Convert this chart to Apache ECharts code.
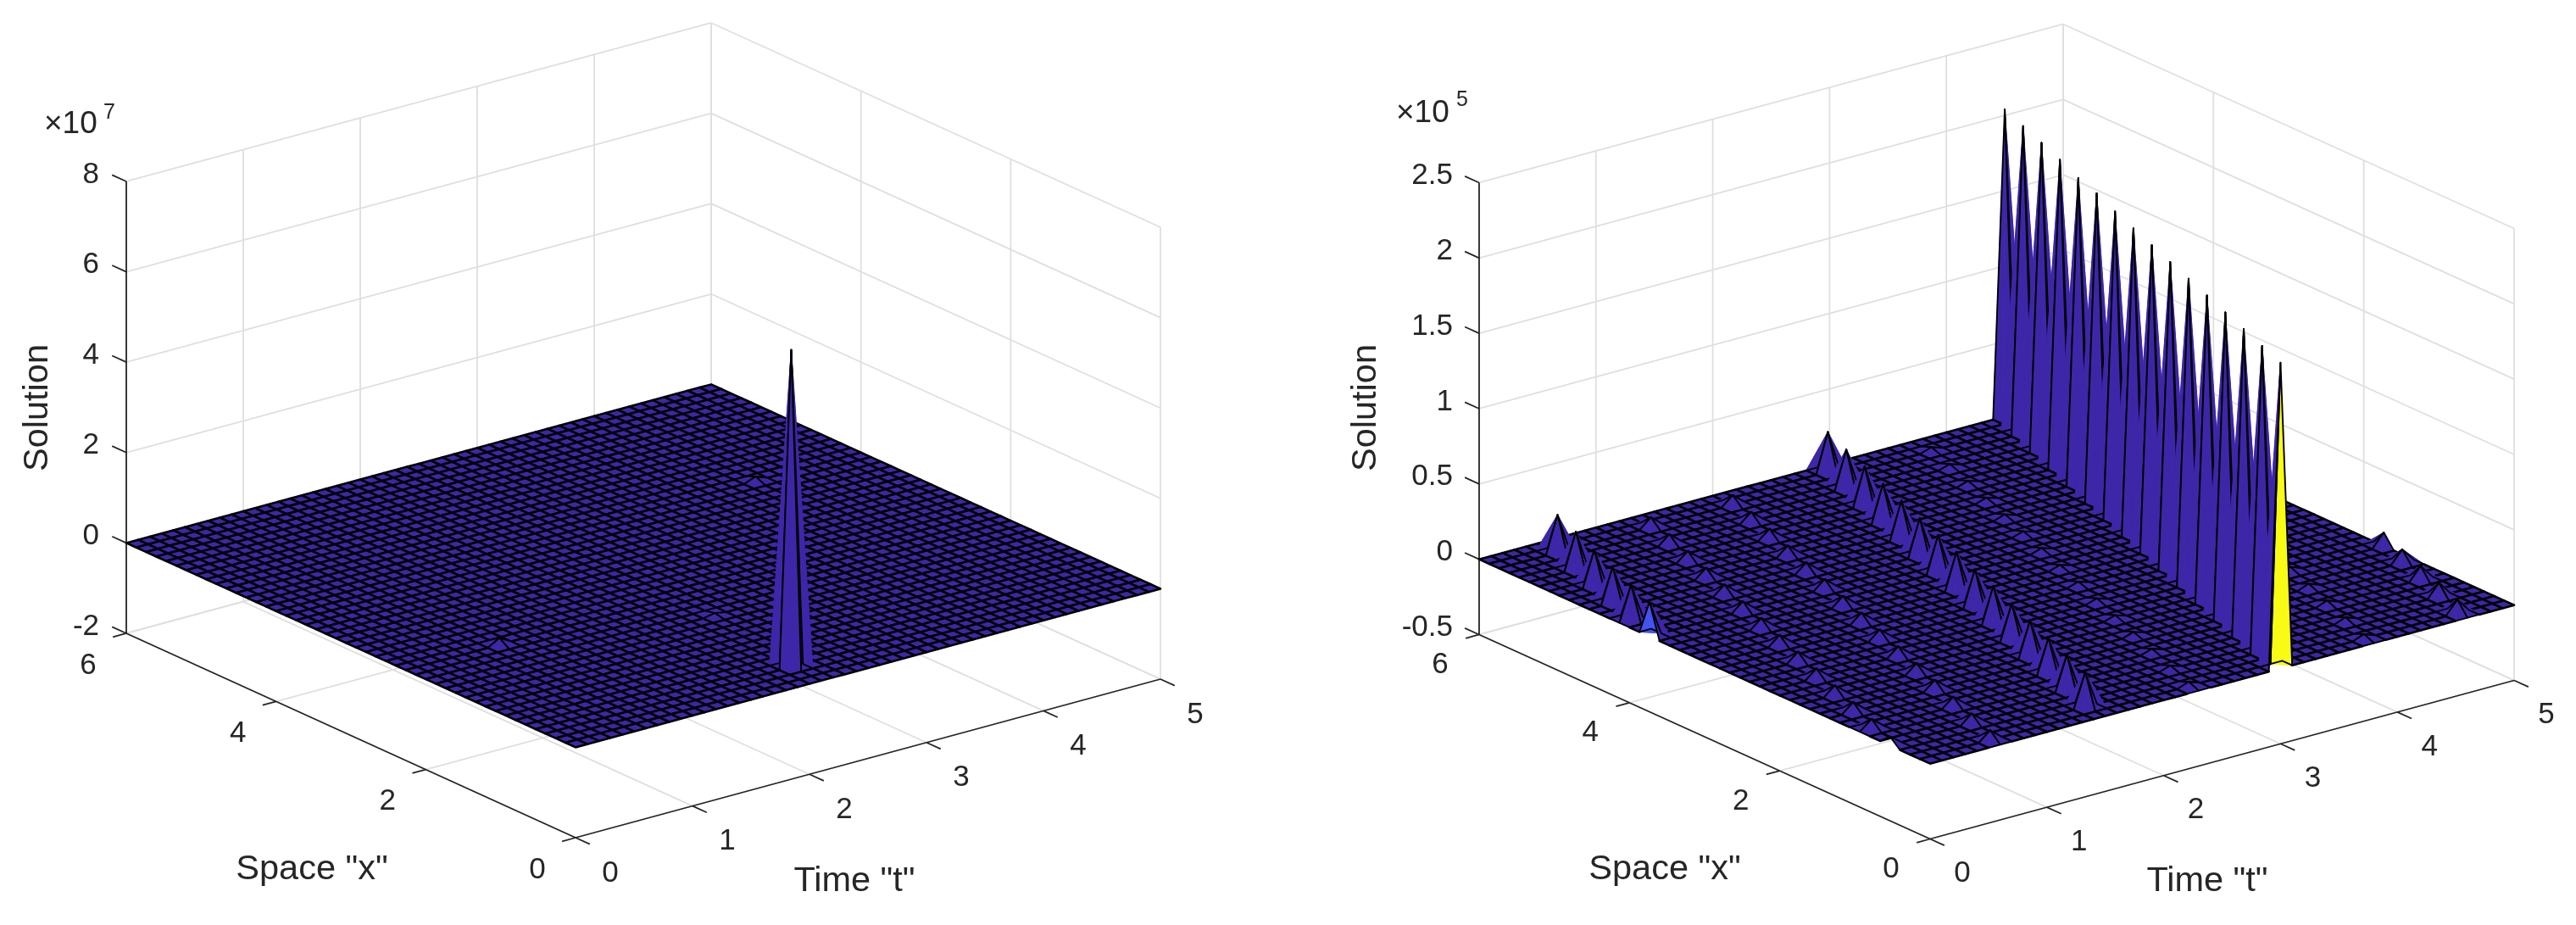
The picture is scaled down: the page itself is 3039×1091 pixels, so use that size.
<!DOCTYPE html>
<html><head><meta charset="utf-8">
<style>html,body{margin:0;padding:0;background:#fff}#main{width:3039px;height:1091px}</style>
<script src="https://cdn.jsdelivr.net/npm/echarts@6/dist/echarts.min.js"></script>
</head><body><div id="main"></div>
<script>
// ---------- data ----------
const timeTicks = [0, 1, 2, 3, 4, 5];
const spaceTicks = [0, 2, 4, 6];
const leftZTicks = [-2, 0, 2, 4, 6, 8];
const rightZTicks = [-0.5, 0, 0.5, 1, 1.5, 2, 2.5];
const rightZLabels = ['-0.5', '0', '0.5', '1', '1.5', '2', '2.5'];
const timeCells = 50, spaceCells = 45;   // mesh: 0.1 in t, 6/45 in x

// peaks: [time index, space index, value]; the surface is 0 everywhere else
const leftPeaks = [[21, 3, 7.02], [8, 17, 0.15], [41, 30, 0.1], [23, 13, 0.05]];   // x 1e7
const rightMainRidge = [[45,45,2.04],[44,42,2.04],[43,39,2.04],[42,36,2.04],[41,33,2.03],[40,30,2.04],[39,27,2.03],[38,24,2.03],
  [37,21,2.03],[36,18,2.03],[35,15,2.03],[34,12,2.03],[33,9,2.03],[32,6,2.03],[31,3,2.03],[30,0,2.03]];   // x 1e5
const rightSecondRidge = [[29,44,0.265],[28,41,0.26],[27,38,0.26],[26,35,0.255],[25,32,0.255],[24,29,0.25],[23,26,0.25],[22,23,0.25],
  [21,20,0.245],[20,17,0.245],[19,14,0.24],[18,11,0.24],[17,8,0.235],[16,5,0.235],[15,2,0.23]];
const rightThirdRidge = [[5,43,0.25],[4,40,0.25],[3,37,0.24],[2,34,0.24],[1,31,0.23],[0,28,0.23]];
const rightSmallRidgeA = [[13,43,0.065],[12,40,0.065],[11,37,0.065],[10,34,0.065],[9,31,0.065],[8,28,0.065],[7,25,0.065],[6,22,0.065],
  [5,19,0.065],[4,16,0.065],[3,13,0.065],[2,10,0.065],[1,7,0.065],[0,4,0.06]];
const rightSmallRidgeB = [[20,43,0.065],[19,40,0.065],[18,37,0.065],[17,34,0.065],[16,31,0.065],[15,28,0.065],[14,25,0.065],[13,22,0.065],
  [12,19,0.065],[11,16,0.065],[10,13,0.065],[9,10,0.065],[8,7,0.065],[7,4,0.065],[6,1,0.065]];
const rightSmallRidgeC = [[37,43,0.025],[36,40,0.025],[35,37,0.025],[34,34,0.025],[33,31,0.025],[32,28,0.025],[31,25,0.025],[30,22,0.025],
  [29,19,0.025],[28,16,0.025],[27,13,0.025],[26,10,0.025],[25,7,0.025],[24,4,0.025],[23,1,0.03]];
const rightSmallRidgeD = [[42,13,0.03],[41,10,0.03],[40,7,0.03],[39,4,0.03],[38,1,0.03]];
const rightEdgeRidge = [[50,13,0.09],[49,10,0.09],[48,7,0.09],[47,4,0.09],[46,1,0.09]];
const rightPeaks = [].concat(rightMainRidge, rightSecondRidge, rightThirdRidge, rightSmallRidgeA, rightSmallRidgeB, rightSmallRidgeC, rightSmallRidgeD, rightEdgeRidge);
const rightCellColors = [[30, 0, '#F9FB15'], [0, 28, '#4352F0']];

// ---------- view of each panel (orthographic camera, screen pixels) ----------
const leftView = {o:[679,988], tv:[138,-37.4], xv:[-88.33,-40.17], zMin:-2, zMax:8, zLen:533,
  zTicks:leftZTicks, zLabels:leftZTicks.map(String), xMax:6, tMax:5, peaks:leftPeaks, colors:[],
  zLabelRight:117, solution:[45,481], space:[368,1026], time:[1008,1040],
  times:[52,147], sup:[129,133], exp:'7', xLabOff:[-45,38], tLabOff:[41,42]};
const rightView = {o:[2277,989.5], tv:[137.8,-37.4], xv:[-88.67,-40.17], zMin:-0.5, zMax:2.5, zLen:533,
  zTicks:rightZTicks, zLabels:rightZLabels, xMax:6, tMax:5, peaks:rightPeaks, colors:rightCellColors,
  zLabelRight:1714, solution:[1612,481], space:[1964,1026], time:[2604,1040],
  times:[1647,134], sup:[1725,118], exp:'5', xLabOff:[-46,36], tLabOff:[38,41]};

const FONT = '"Liberation Sans", Arial, sans-serif';
const TEXT = '#262626', GRID = '#DFDFDF', AXIS = '#262626', FACE = '#3E26A8';
const LINE_W = 2.6, RAISED_LINE_W = 1.9;

function project(v, t, x, z) {
  const zs = (z - v.zMin) / (v.zMax - v.zMin) * v.zLen;
  return [v.o[0] + t * v.tv[0] + x * v.xv[0], v.o[1] + t * v.tv[1] + x * v.xv[1] - zs];
}

function frameItems(v) {
  const gr = [], ax = [], txt = [];
  const zb = v.zMin, zt = v.zMax, tm = v.tMax, xm = v.xMax;
  timeTicks.forEach(t => {
    gr.push([t,0,zb,t,xm,zb]);
    gr.push([t,xm,zb,t,xm,zt]);
    ax.push([t,0,zb,t,-0.19,zb]);
    const p = project(v,t,0,zb);
    txt.push({text:String(t), x:p[0]+v.tLabOff[0], y:p[1]+v.tLabOff[1], size:35, align:'center'});
  });
  spaceTicks.forEach(x => {
    gr.push([0,x,zb,tm,x,zb]);
    gr.push([tm,x,zb,tm,x,zt]);
    ax.push([0,x,zb,-0.115,x,zb]);
    const p = project(v,0,x,zb);
    txt.push({text:String(x), x:p[0]+v.xLabOff[0], y:p[1]+v.xLabOff[1], size:35, align:'center'});
  });
  v.zTicks.forEach((z,i) => {
    gr.push([0,xm,z,tm,xm,z]);
    gr.push([tm,xm,z,tm,0,z]);
    ax.push([0,xm,z,0,xm+0.19,z]);
    const p = project(v,0,xm,z);
    txt.push({text:v.zLabels[i], x:v.zLabelRight, y:p[1]-8, size:35, align:'right'});
  });
  ax.push([0,0,zb,tm,0,zb]);
  ax.push([0,0,zb,0,xm,zb]);
  ax.push([0,xm,zb,0,xm,zt]);
  txt.push({text:'Solution', x:v.solution[0], y:v.solution[1], size:41.5, align:'center', rot:Math.PI/2});
  txt.push({text:'Space "x"', x:v.space[0], y:v.space[1], size:41.5, align:'center'});
  txt.push({text:'Time "t"', x:v.time[0], y:v.time[1], size:41.5, align:'center'});
  txt.push({text:'\u00D710', x:v.times[0], y:v.times[1], size:37, align:'left'});
  txt.push({text:v.exp, x:v.sup[0], y:v.sup[1], size:25, align:'center'});
  return {gr, ax, txt};
}

function frameSeries(v) {
  const f = frameItems(v);
  const all = f.gr.map(s => ({k:'g', s})).concat(f.ax.map(s => ({k:'a', s})), f.txt.map(s => ({k:'t', s})));
  return {
    type:'custom', coordinateSystem:'cartesian2d', silent:true, animation:false, progressive:0, clip:false, z:1,
    data: all.map((_, i) => [i]),
    renderItem(params, api) {
      const it = all[params.dataIndex];
      if (it.k === 't') {
        const c = api.coord([it.s.x, it.s.y]);
        return {type:'text', x:c[0], y:c[1], rotation:it.s.rot || 0,
          style:{text:it.s.text, x:0, y:0, fill:TEXT, font:it.s.size + 'px ' + FONT, textAlign:it.s.align, textVerticalAlign:'middle'}};
      }
      const a = api.coord(project(v, it.s[0], it.s[1], it.s[2]));
      const b = api.coord(project(v, it.s[3], it.s[4], it.s[5]));
      return {type:'line', shape:{x1:a[0], y1:a[1], x2:b[0], y2:b[1]},
        style:{stroke: it.k === 'g' ? GRID : AXIS, lineWidth:1.8, fill:null}};
    }
  };
}

function surfaceSeries(v) {
  const Z = [];
  for (let i = 0; i <= timeCells; i++) Z.push(new Array(spaceCells + 1).fill(0));
  v.peaks.forEach(p => { Z[p[0]][p[1]] = p[2]; });
  const colorOf = {};
  v.colors.forEach(c => { colorOf[c[0] + '_' + c[1]] = c[2]; });
  const cells = [];
  for (let i = timeCells - 1; i >= 0; i--) for (let j = spaceCells - 1; j >= 0; j--) cells.push([i, j]);
  const T = i => i * v.tMax / timeCells, X = j => j * v.xMax / spaceCells;
  return {
    type:'custom', coordinateSystem:'cartesian2d', silent:true, animation:false, progressive:0, clip:false, z:2,
    data: cells,
    renderItem(params, api) {
      const c = cells[params.dataIndex], i = c[0], j = c[1];
      const corners = [[i,j],[i+1,j],[i+1,j+1],[i,j+1]];
      const zs = corners.map(q => Z[q[0]][q[1]]);
      const pts = corners.map((q, n) => api.coord(project(v, T(q[0]), X(q[1]), zs[n])));
      const own = colorOf[i + '_' + j];
      const fill = own || FACE;
      if (Math.max.apply(null, zs) === 0) {
        return {type:'polygon', shape:{points:pts}, style:{fill, stroke:'#000', lineWidth:LINE_W, lineJoin:'round'}};
      }
      // a raised cell is two triangles split at a diagonal, as the surface renderer does
      let k = zs.indexOf(Math.max.apply(null, zs));
      if (own) k = (k + 1) % 4;       // the coloured faces split along the chord facing the viewer
      const a = pts[k], b = pts[(k+1)%4], d = pts[(k+2)%4], e = pts[(k+3)%4];
      const tri = p => ({type:'polygon', shape:{points:p}, style:{fill, stroke:fill, lineWidth:0.8, lineJoin:'round'}});
      return {type:'group', children:[
        tri([a,b,d]), tri([a,d,e]),
        {type:'polygon', shape:{points:pts}, style:{stroke:'#000', lineWidth:RAISED_LINE_W, lineJoin:'round', fill:null}}
      ]};
    }
  };
}

const chart = echarts.init(document.getElementById('main'), null, {renderer:'canvas'});
chart.setOption({
  backgroundColor:'#fff',
  animation:false,
  grid:{left:0, top:0, width:3039, height:1091},
  xAxis:{type:'value', min:0, max:3039, show:false},
  yAxis:{type:'value', min:0, max:1091, inverse:true, show:false},
  series:[frameSeries(leftView), frameSeries(rightView), surfaceSeries(leftView), surfaceSeries(rightView)]
});
</script></body></html>
